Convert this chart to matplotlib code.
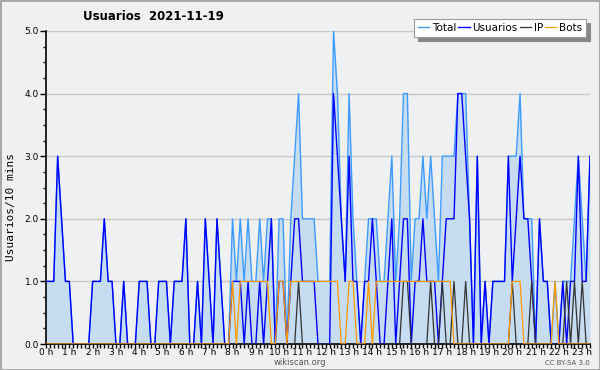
import matplotlib
matplotlib.use("Agg")
import matplotlib.pyplot as plt
from matplotlib.ticker import MultipleLocator, FixedLocator
import numpy as np

# valores por intervalo de 10 minutos (0h00 .. 23h20)
usuarios = [1, 1, 1, 3, 2, 1, 1, 0, 0, 0,
            0, 0, 1, 1, 1, 2, 1, 1, 0, 0,
            1, 0, 0, 0, 1, 1, 1, 0, 0, 1,
            1, 1, 0, 1, 1, 1, 2, 0, 0, 1,
            0, 2, 1, 0, 2, 1, 0, 0, 1, 1,
            1, 0, 1, 0, 0, 1, 0, 1, 2, 0,
            1, 1, 0, 1, 2, 2, 1, 1, 1, 1,
            0, 0, 0, 0, 4, 3, 2, 1, 3, 1,
            1, 0, 1, 1, 2, 1, 0, 0, 1, 2,
            0, 1, 2, 2, 0, 1, 1, 2, 1, 1,
            1, 0, 1, 2, 2, 2, 4, 4, 3, 2,
            0, 3, 0, 1, 0, 1, 1, 1, 1, 3,
            1, 2, 3, 2, 2, 1, 0, 2, 1, 1,
            0, 0, 0, 1, 0, 1, 1, 3, 1, 1, 3]

ip = [0] * 10 * 6 + [0, 0, 0, 0, 0, 1, 0, 0, 0, 0,
                     0, 0, 0, 0, 0, 0, 0, 0, 0, 0,
                     0, 0, 0, 0, 0, 0, 0, 0, 0, 0,
                     0, 0, 1, 1, 0, 0, 0, 0, 0, 1,
                     0, 0, 1, 0, 0, 1, 0, 0, 1, 0,
                     0, 0, 0, 0, 0, 0, 0, 0, 0, 0,
                     1, 0, 0, 0, 0, 1, 0, 0, 0, 0,
                     0, 0, 0, 0, 1, 0, 1, 0, 1, 0, 0]

bots = [0] * 48 + [1, 0, 1, 1, 1, 1, 1, 1, 1, 1, 0, 0,
                   1, 1, 0, 1, 1, 1, 1, 1, 1, 1,
                   1, 1, 1, 1, 1, 1, 0, 0, 1, 1,
                   0, 0, 0, 1, 0, 1, 1, 1, 1, 1,
                   1, 1, 1, 1, 1, 1, 1, 1, 1, 1,
                   1, 1, 1, 1, 1, 0, 0, 0, 0, 0,
                   0, 0, 0, 0, 0, 0, 0, 0, 0, 0,
                   1, 1, 1, 0, 0, 0, 0, 0, 0, 0,
                   0, 1, 0, 0, 0, 0, 0, 0, 0, 0, 0]

total = [1, 1, 1, 3, 2, 1, 1, 0, 0, 0,
         0, 0, 1, 1, 1, 2, 1, 1, 0, 0,
         1, 0, 0, 0, 1, 1, 1, 0, 0, 1,
         1, 1, 0, 1, 1, 1, 2, 0, 0, 1,
         0, 2, 1, 0, 2, 1, 0, 0, 2, 1,
         2, 1, 2, 1, 1, 2, 1, 2, 2, 0,
         2, 2, 0, 2, 3, 4, 2, 2, 2, 2,
         1, 1, 1, 1, 5, 4, 2, 1, 4, 2,
         1, 0, 1, 2, 2, 2, 1, 1, 2, 3,
         1, 2, 4, 4, 1, 2, 2, 3, 2, 3,
         2, 1, 3, 3, 3, 3, 4, 4, 4, 2,
         0, 3, 0, 1, 0, 1, 1, 1, 1, 3,
         3, 3, 4, 2, 2, 2, 0, 2, 1, 1,
         0, 1, 0, 1, 1, 1, 2, 3, 2, 1, 3]

horas = [f"{h} h" for h in range(24)]

fundo = "#eff0f1"
fig = plt.figure(figsize=(6, 3.7), dpi=100, facecolor=fundo,
                 edgecolor="#a8a8a8", linewidth=2)
ax = fig.add_axes([46 / 600, 1 - 344 / 370, 544 / 600, 313 / 370])
ax.set_facecolor(fundo)

x = np.arange(len(total))
ax.fill_between(x, total, color="#c6dcf0", lw=0, zorder=1)
ax.plot(x, total, color="#3d9bff", lw=1.0, label="Total", zorder=3)
ax.plot(x, usuarios, color="#0000ff", lw=1.0, label="Usuarios", zorder=4)
ax.plot(x, ip, color="#333333", lw=0.9, label="IP", zorder=5)
ax.plot(x, bots, color="#ff9900", lw=0.9, label="Bots", zorder=5)

ax.set_xlim(0, len(total) - 1)
ax.set_ylim(0, 5)

ax.xaxis.set_major_locator(FixedLocator(np.arange(24) * 6))
ax.set_xticklabels(horas, fontsize=6.5)
ax.xaxis.set_minor_locator(MultipleLocator(1))
ax.yaxis.set_minor_locator(MultipleLocator(0.25))
ax.set_yticks(range(6))
ax.set_yticklabels([f"{v:.1f}" for v in range(6)], fontsize=6.5)
ax.tick_params(axis="x", which="both", direction="out", length=3, width=1, pad=0)
ax.tick_params(axis="y", which="major", direction="out", length=4, width=1, pad=1)
ax.tick_params(axis="y", which="minor", direction="out", length=2.5, width=1)

ax.grid(axis="y", color="#c8c8c8", lw=1)
ax.set_axisbelow(True)
for s in ["top", "right"]:
    ax.spines[s].set_visible(False)
for s in ["left", "bottom"]:
    ax.spines[s].set_linewidth(1.2)

fig.text(0.138, 1 - 17 / 370, "Usuarios  2021-11-19", fontsize=8.5,
         fontweight="bold", ha="left", va="center")
fig.text(0.018, 1 - 207 / 370, "Usuarios/10 mins", rotation=90, fontsize=8,
         family="DejaVu Sans Mono", ha="center", va="center")
fig.text(0.5, 1 - 362.5 / 370, "wikiscan.org", fontsize=6, color="#555555",
         ha="center", va="center")
fig.text(590 / 600, 1 - 363 / 370, "CC BY-SA 3.0", fontsize=5, color="#555555",
         ha="right", va="center")

leg = ax.legend(loc="upper right", bbox_to_anchor=(591 / 600, 1 - 14 / 370),
                bbox_transform=fig.transFigure, ncol=4, fontsize=7.5,
                handlelength=1.1, handletextpad=0.25, columnspacing=0.2,
                borderpad=0.35, fancybox=False, framealpha=1, edgecolor="#999999",
                shadow={"color": "#888888", "alpha": 1, "ox": 3, "oy": -3})
leg.get_frame().set_linewidth(0.8)

fig.savefig("out.png", dpi=100, facecolor=fundo, edgecolor=fig.get_edgecolor())
